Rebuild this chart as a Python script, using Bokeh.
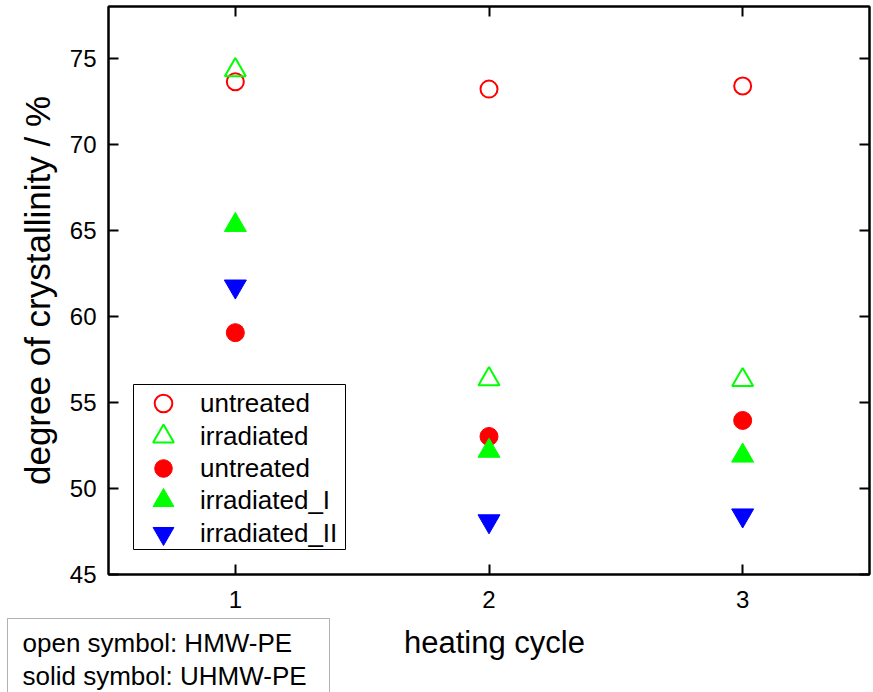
from bokeh.plotting import figure
from bokeh.layouts import column
from bokeh.models import (LinearAxis, FixedTicker, Legend, LegendItem, Label,
                          Range1d, BoxAnnotation)
from bokeh.embed import file_html
from bokeh.resources import INLINE

# ---- data ----
cycles = [1, 2, 3]
hmw_untreated = [73.63, 73.2, 73.38]
hmw_irradiated = [74.3, 56.35, 56.3]
uhmw_untreated = [59.05, 53.02, 53.95]
uhmw_irradiated_I = [65.3, 52.18, 51.9]
uhmw_irradiated_II = [61.74, 48.1, 48.44]
x_ticks = [1, 2, 3]
y_ticks = [45, 50, 55, 60, 65, 70, 75]
legend_labels = ["untreated", "irradiated", "untreated", "irradiated_I", "irradiated_II"]
note_lines = ["open symbol: HMW-PE", "solid symbol: UHMW-PE"]
x_title = "heating cycle"
y_title = "degree of crystallinity / %"

FONT = "Liberation Sans"
W = 873
H_MAIN = 617
H_NOTE = 75
LEFT = 108

p = figure(width=W, height=H_MAIN, output_backend="svg", toolbar_location=None,
           x_range=Range1d(0.5, 3.5), y_range=Range1d(45, 78),
           min_border_left=LEFT, min_border_right=4, min_border_top=6,
           min_border_bottom=43, background_fill_color="white",
           border_fill_color="white")
p.xgrid.grid_line_color = None
p.ygrid.grid_line_color = None
p.outline_line_color = "black"
p.outline_line_width = 2


def style_axis(ax, ticks, show_labels):
    ax.ticker = FixedTicker(ticks=ticks)
    ax.axis_line_color = "black"
    ax.axis_line_width = 2
    ax.major_tick_line_color = "black"
    ax.major_tick_line_width = 2
    ax.major_tick_in = 10
    ax.major_tick_out = 0
    ax.minor_tick_line_color = None
    ax.major_label_text_font = FONT
    ax.major_label_text_color = "black"
    if show_labels:
        ax.major_label_text_font_size = "24px"
    else:
        ax.major_label_overrides = {t: "" for t in ticks}
        ax.major_label_text_font_size = "0px"
        ax.major_label_standoff = 0


xa = p.xaxis[0]
ya = p.yaxis[0]
style_axis(xa, x_ticks, True)
style_axis(ya, y_ticks, True)
xa.major_label_standoff = 16
ya.major_label_standoff = 12
ya.axis_label = y_title
ya.axis_label_text_font = FONT
ya.axis_label_text_font_size = "35px"
ya.axis_label_text_font_style = "normal"
ya.axis_label_text_color = "black"
ya.axis_label_standoff = 10

top_ax = LinearAxis()
style_axis(top_ax, x_ticks, False)
p.add_layout(top_ax, "above")
right_ax = LinearAxis()
style_axis(right_ax, y_ticks, False)
p.add_layout(right_ax, "right")

r1 = p.scatter(cycles, hmw_untreated, marker="circle", size=17,
               fill_color=None, line_color="#ff0000", line_width=2)
r2 = p.scatter(cycles, hmw_irradiated, marker="triangle", size=21,
               fill_color=None, line_color="#00ff00", line_width=2)
r3 = p.scatter(cycles, uhmw_untreated, marker="circle", size=18,
               fill_color="#ff0000", line_color="#ff0000", line_width=1)
r4 = p.scatter(cycles, uhmw_irradiated_I, marker="triangle", size=22,
               fill_color="#00ff00", line_color="#00ff00", line_width=1)
r5 = p.scatter(cycles, uhmw_irradiated_II, marker="inverted_triangle", size=22,
               fill_color="#0000ff", line_color="#0000ff", line_width=1)
renderers = [r1, r2, r3, r4, r5]

# legend frame (screen units relative to plot frame, y upward)
legend_box = BoxAnnotation(left=25, right=237, bottom=25, top=190,
                           left_units="screen", right_units="screen",
                           bottom_units="screen", top_units="screen",
                           fill_color="white", fill_alpha=1,
                           line_color="black", line_width=1, line_alpha=1)
p.add_layout(legend_box)

row_top_center = 171        # frame-relative y of first row centre
row_step = 32.5
glyph_cx = 55
text_x = 92
glyph_boxes = [44, 52, 44, 52, 52]
for k, (lab, r, gb) in enumerate(zip(legend_labels, renderers, glyph_boxes)):
    cy = row_top_center - k * row_step
    lg = Legend(items=[LegendItem(label=lab, renderers=[r])],
                location=(int(glyph_cx - gb / 2), int(round(cy - gb / 2))),
                margin=0, padding=0, glyph_width=gb, glyph_height=gb,
                label_height=gb, spacing=0,
                label_standoff=int(text_x - (glyph_cx + gb / 2)),
                label_text_font=FONT, label_text_font_size="26px",
                label_text_color="black", border_line_color=None,
                background_fill_alpha=0)
    p.add_layout(lg, "center")

# ---- bottom strip: axis title and note box ----
# (shifted left so that its aligned frame starts at the page's left edge)
q = figure(width=W, height=H_NOTE, output_backend="svg", toolbar_location=None,
           x_range=Range1d(0, W), y_range=Range1d(0, H_NOTE),
           x_axis_type=None, y_axis_type=None, min_border=0,
           background_fill_color="white", border_fill_color="white",
           margin=(0, 0, 0, -LEFT))
q.xgrid.grid_line_color = None
q.ygrid.grid_line_color = None
q.outline_line_color = None

note_box = BoxAnnotation(left=7, right=329, bottom=-20, top=74,
                         left_units="screen", right_units="screen",
                         bottom_units="screen", top_units="screen",
                         fill_color="white", fill_alpha=1,
                         line_color="black", line_width=1)
q.add_layout(note_box)
for i, line in enumerate(note_lines):
    q.add_layout(Label(x=22, y=50 - 33 * i, x_units="screen", y_units="screen",
                       text=line, text_font=FONT, text_font_size="26px",
                       text_color="black", text_align="left",
                       text_baseline="alphabetic"))
q.add_layout(Label(x=494, y=50, x_units="screen", y_units="screen",
                   text=x_title, text_font=FONT, text_font_size="31px",
                   text_color="black", text_align="center",
                   text_baseline="alphabetic"))

layout = column(p, q, spacing=0)
open("out.html", "w").write(file_html(layout, INLINE))
